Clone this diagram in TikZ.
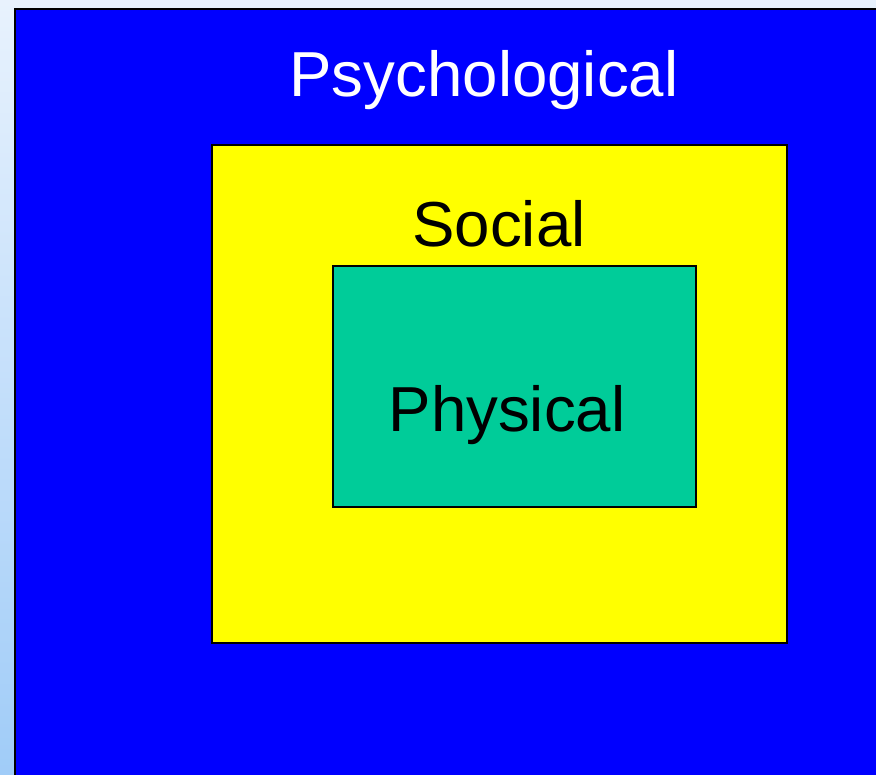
\documentclass[tikz,border=0pt]{standalone}
\usepackage{fontspec}
\setmainfont{Liberation Sans}
\definecolor{bgtop}{HTML}{E8F2FD}
\definecolor{bgbot}{HTML}{A0CCF8}
\definecolor{psyblue}{HTML}{0000FF}
\definecolor{socyellow}{HTML}{FFFF00}
\definecolor{phygreen}{HTML}{00CC99}
\tikzset{
  layer/.style={draw=black, line width=1.5pt, inner sep=0pt},
  lbl/.style={font=\fontsize{63.6}{70}\selectfont, anchor=base, inner sep=0pt}
}
\begin{document}
\begin{tikzpicture}[x=1pt,y=-1pt]
\useasboundingbox (0,0) rectangle (876,775);
\shade[top color=bgtop, bottom color=bgbot] (0,0) rectangle (876,775);
\draw[layer, fill=psyblue] (15,9) rectangle (880,780);
\draw[layer, line width=1.4pt, fill=socyellow] (212,145) rectangle (787,643);
\draw[layer, line width=1.4pt, fill=phygreen] (333,266) rectangle (696,507);
\node[lbl, text=white] (psy) at (484,97) {Psychological};
\node[lbl, text=black] (soc) at (499,247) {Social};
\node[lbl, text=black] (phy) at (507,432) {Physical};
\end{tikzpicture}
\end{document}
